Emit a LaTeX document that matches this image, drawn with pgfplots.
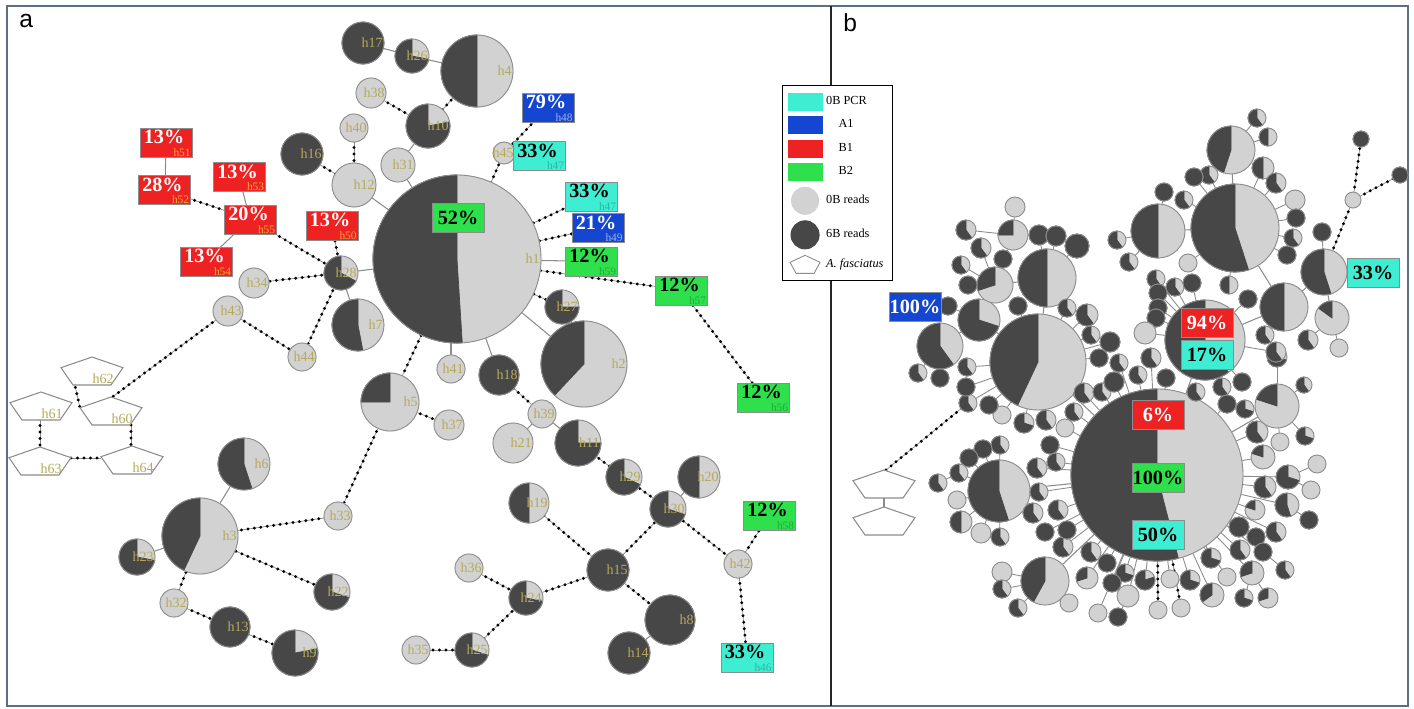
\documentclass[border=0pt]{standalone}
\usepackage{pgfplots}
\pgfplotsset{compat=1.18}
\usepackage{fontspec}
\setmainfont{Liberation Serif}
\newfontfamily\sansf{Liberation Sans}
\definecolor{pdark}{HTML}{474747}
\definecolor{plight}{HTML}{D2D2D2}
\definecolor{pedge}{HTML}{8C8C8C}
\definecolor{bred}{HTML}{EE2222}
\definecolor{bblue}{HTML}{1446D2}
\definecolor{bgreen}{HTML}{2EE04C}
\definecolor{bcyan}{HTML}{3EEED2}
\definecolor{hlab}{HTML}{B4AA5A}
\definecolor{sred}{HTML}{F2A93B}
\definecolor{sblue}{HTML}{9FB0E8}
\definecolor{sgreen}{HTML}{23A83E}
\definecolor{scyan}{HTML}{27B8A4}
\definecolor{framec}{HTML}{5B6E82}
\def\px{0.02cm}
\newcommand{\hfont}{\fontsize{8}{9}\selectfont}
\newcommand{\pfont}{\fontsize{11.5}{12}\selectfont\bfseries}
\newcommand{\sfont}{\fontsize{6.5}{7}\selectfont}
\pgfdeclareplotmark{nothing}{}
\pgfplotsset{
  pies/.style={scatter, only marks, mark=nothing, point meta=\thisrow{r}, forget plot,
    visualization depends on={value \thisrow{r}\as\rr},
    visualization depends on={value \thisrow{f}\as\ff},
    scatter/@pre marker code/.code={%
      \fill[plight] (0pt,0pt) circle[radius=\rr*\px];
      \ifdim\ff pt>0.001pt
      \fill[pdark] (0pt,0pt) -- (0pt,\rr*\px) arc[start angle=90, delta angle=\ff*360, radius=\rr*\px] -- cycle;
      \fi
      \draw[pedge, line width=0.5pt] (0pt,0pt) circle[radius=\rr*\px];
    },
    scatter/@post marker code/.code={}},
  piesl/.style={pies,
    visualization depends on={value \thisrow{lab}\as\lab},
    scatter/@post marker code/.code={%
      \node[anchor=east, text=hlab, font=\hfont, inner sep=0pt] at (\rr*\px-1*\px,0pt) {\lab};}},
  boxes/.style={scatter, only marks, mark=nothing, point meta=\thisrow{p}, forget plot,
    visualization depends on={value \thisrow{p}\as\pct},
    visualization depends on={value \thisrow{c}\as\bc},
    visualization depends on={value \thisrow{t}\as\tc},
    scatter/@pre marker code/.code={%
      \node[draw=black!45, line width=0.4pt, fill=\bc, minimum width=52*\px, minimum height=29*\px, inner sep=0pt] at (0pt,0pt) {};
    },
    scatter/@post marker code/.code={}},
  boxsub/.style={boxes,
    visualization depends on={value \thisrow{s}\as\sc},
    visualization depends on={value \thisrow{lab}\as\lab},
    scatter/@post marker code/.code={%
      \node[text=\tc, font=\pfont, inner sep=0pt] at (-2*\px,5.5*\px) {\pct\%};
      \node[text=\sc, font=\sfont, anchor=south east, inner sep=0pt] at (25*\px,-14*\px) {\lab};}},
  boxnos/.style={boxes,
    scatter/@post marker code/.code={%
      \node[text=\tc, font=\pfont, inner sep=0pt] at (0pt,0pt) {\pct\%};}},
  pents/.style={scatter, only marks, mark=nothing, point meta=\thisrow{x}, forget plot,
    scatter/@pre marker code/.code={%
      \draw[pedge, fill=white, line width=0.6pt] (0pt,14*\px) -- (-31*\px,3.3*\px) -- (-19*\px,-14*\px) -- (19*\px,-14*\px) -- (31*\px,3.3*\px) -- cycle;},
    scatter/@post marker code/.code={}},
  pentsl/.style={pents,
    visualization depends on={value \thisrow{lab}\as\lab},
    scatter/@post marker code/.code={%
      \node[anchor=south east, text=hlab, font=\hfont, inner sep=0pt] at (22*\px,-13*\px) {\lab};}},
  solidedge/.style={pedge, line width=0.6pt, forget plot,
    quiver={u=\thisrow{x2}-\thisrow{x1}, v=\thisrow{y2}-\thisrow{y1}}},
  dotline/.style={pedge, line width=0.4pt, forget plot,
    quiver={u=\thisrow{x2}-\thisrow{x1}, v=\thisrow{y2}-\thisrow{y1}}},
  dots/.style={black, line width=0.065cm, line cap=round, dash pattern=on 0pt off 0.13cm, forget plot,
    quiver={u=\thisrow{x2}-\thisrow{x1}, v=\thisrow{y2}-\thisrow{y1}}},
}
\begin{document}
\begin{tikzpicture}
\begin{axis}[
  scale only axis, width=28.28cm, height=14.18cm,
  xmin=0, xmax=1414, ymin=0, ymax=709, y dir=reverse,
  hide axis, clip=false,
  legend style={at={(axis cs:782,85)}, anchor=north west, draw=black, line width=0.6pt, fill=white,
    font=\fontsize{7}{8}\selectfont, row sep=0.11cm, inner xsep=0.1cm, inner ysep=0.14cm},
  legend cell align=left,
]
\addlegendimage{legend image code/.code={\fill[bcyan] (0pt,-8.5*\px) rectangle (34*\px,8.5*\px);}}
\addlegendentry{0B PCR}
\addlegendimage{legend image code/.code={\fill[bblue] (0pt,-8.5*\px) rectangle (34*\px,8.5*\px);}}
\addlegendentry{\hspace{0.25cm}A1}
\addlegendimage{legend image code/.code={\fill[bred] (0pt,-8.5*\px) rectangle (34*\px,8.5*\px);}}
\addlegendentry{\hspace{0.25cm}B1}
\addlegendimage{legend image code/.code={\fill[bgreen] (0pt,-8.5*\px) rectangle (34*\px,8.5*\px);}}
\addlegendentry{\hspace{0.25cm}B2}
\addlegendimage{legend image code/.code={\fill[plight] (17*\px,0pt) circle[radius=13.5*\px];}}
\addlegendentry{0B reads}
\addlegendimage{legend image code/.code={\fill[pdark] (17*\px,0pt) circle[radius=14*\px];}}
\addlegendentry{6B reads}
\addlegendimage{legend image code/.code={\draw[pedge, fill=white, line width=0.5pt] (17*\px,9*\px) -- (2*\px,2*\px) -- (8*\px,-9*\px) -- (26*\px,-9*\px) -- (32*\px,2*\px) -- cycle;}}
\addlegendentry{\textit{A. fasciatus}}

\fill[white] (axis cs:0,0) rectangle (axis cs:1414,709);
\draw[framec, line width=0.05cm] (axis cs:7,6) rectangle (axis cs:1408,706);
\draw[black!85, line width=0.04cm] (axis cs:831,6) -- (axis cs:831,706);

% solid edges
\addplot[solidedge] table[x=x1,y=y1] {
x1 y1 x2 y2
363 43 412 56
412 56 477 71
428 126 398 165
398 165 457 259
354 185 457 259
504 153 520 155
457 259 570 261
457 259 584 364
451 369 451 330
499 375 457 259
341 273 457 259
341 273 358 325
250 219 239 177
250 219 206 261
165 190 166 142
200 536 244 464
200 536 137 557
542 414 513 443
542 414 578 443
668 509 699 477
670 620 629 653
884 497 884 508
1235 228 1158 231
1235 228 1231 150
1235 228 1284 307
1284 307 1324 272
1324 272 1332 318
1205 340 1157 475
1205 340 1284 307
1157 475 1038 362
1038 362 1047 278
1047 278 995 285
1038 362 979 320
979 320 940 346
1157 475 999 491
1157 475 1045 581
1157 475 1277 406
};
% edges of small haplotypes in panel b
\addplot[pedge, line width=0.5pt, forget plot, quiver={u=\thisrow{hx}-\thisrow{x}, v=\thisrow{hy}-\thisrow{y}}] table {
x y r f hx hy
1304 385 8 0.6 1277 406
1277 357 10 0.7 1277 406
1242 382 9 1 1205 340
1245 409 9 0.7 1277 406
1227 404 9 1 1157 475
1257 432 11 0.6 1157 475
1280 442 9 0 1277 406
1305 436 9 0.7 1277 406
1263 457 12 0.2 1157 475
1288 477 12 0.7 1157 475
1317 464 9 0 1288 477
1265 487 11 0.6 1157 475
1311 490 9 0 1288 477
1255 510 10 0.2 1157 475
1287 505 12 0.55 1157 475
1309 520 9 1 1287 505
1239 527 10 1 1157 475
1276 532 10 0.6 1157 475
1256 537 9 1 1157 475
1263 552 9 1 1157 475
1240 550 10 0.6 1157 475
1285 570 9 0.6 1263 552
1252 573 12 0.3 1157 475
1227 577 9 0 1157 475
1268 598 10 0.3 1252 573
1244 598 9 0.7 1252 573
1212 595 12 0.35 1157 475
1211 558 10 0.7 1157 475
1190 580 10 0.7 1157 475
1170 579 9 0 1157 475
1181 608 9 0 1157 475
1158 610 9 0 1157 475
1145 580 10 0.8 1157 475
1128 596 11 0 1157 475
1125 573 9 0.7 1157 475
1112 583 9 1 1157 475
1107 563 9 1 1157 475
1118 617 9 1 1128 596
1098 613 9 0 1157 475
1091 552 10 0.6 1157 475
1087 578 11 0.3 1157 475
1069 603 9 0 1045 581
1063 547 10 0.6 1157 475
1045 532 9 1 1157 475
1067 530 9 1 1157 475
1058 510 10 0.6 1157 475
1033 513 10 0.6 999 491
1039 492 9 0.6 1157 475
1037 468 10 0.6 1157 475
1056 462 9 0.6 1157 475
1050 445 9 1 1157 475
1065 428 9 0 1157 475
1074 412 9 0.6 1157 475
1046 420 10 0.6 1038 362
1024 423 10 0.7 1038 362
1002 415 9 0 1038 362
989 405 9 1 1038 362
968 403 9 0.6 1038 362
966 387 9 1 1038 362
940 378 9 1 940 346
918 373 9 0.6 940 346
967 367 9 0.6 1038 362
1000 445 9 0.6 999 491
983 449 9 1 999 491
969 458 9 1 999 491
959 473 9 0.6 999 491
938 483 9 0.6 959 473
957 500 9 0 999 491
961 522 11 0.5 999 491
981 533 10 0 999 491
1000 537 9 0.6 999 491
1002 572 10 0 1045 581
1002 589 9 0.6 1045 581
1018 608 9 0.6 1045 581
1099 358 9 1 1038 362
1119 363 9 0.6 1157 475
1138 375 9 0.6 1157 475
1151 358 10 0.6 1157 475
1166 378 9 1 1157 475
1196 392 9 0.6 1157 475
1222 387 9 0.6 1205 340
1084 393 10 0.6 1157 475
1102 392 9 0.6 1157 475
1114 382 10 1 1157 475
1257 118 9 0.6 1231 150
1268 137 9 0.5 1231 150
1263 168 11 0.5 1235 228
1276 183 10 0.6 1235 228
1295 200 10 0 1235 228
1296 218 9 1 1235 228
1293 238 9 0.6 1235 228
1287 255 9 1 1235 228
1322 232 9 1 1324 272
1209 175 9 0.6 1235 228
1194 177 9 1 1235 228
1184 200 9 0.6 1235 228
1164 192 9 1 1158 231
1117 240 9 0.6 1158 231
1129 262 9 0.6 1158 231
1188 263 9 0 1235 228
1229 285 9 0.5 1235 228
1156 279 9 0.6 1205 340
1175 287 9 0.6 1205 340
1192 283 9 1 1205 340
1248 299 9 1 1205 340
1158 293 9 1 1205 340
1158 308 9 1 1205 340
1156 318 9 1 1205 340
1145 333 11 0 1205 340
1265 335 9 0.6 1284 307
1308 340 10 0.6 1332 318
1339 348 9 0 1332 318
1276 352 10 0.6 1205 340
1015 207 10 0 1013 235
966 230 10 0.6 1013 235
1013 235 15 0.25 995 285
1039 235 10 1 1047 278
1056 236 10 1 1047 278
1077 246 12 1 1047 278
981 248 10 0.6 995 285
961 265 9 0.6 995 285
1003 259 9 1 995 285
968 285 9 1 995 285
948 306 9 1 979 320
1018 306 9 1 1038 362
1067 308 9 0.6 1038 362
1087 315 11 0.6 1038 362
1091 335 9 0.6 1038 362
1110 342 10 1 1038 362
};

% dotted edges (mutation steps)
\pgfplotstableread{
x1 y1 x2 y2
477 71 428 126
371 93 428 126
354 128 354 185
302 154 354 185
504 153 457 259
504 153 548 107
457 259 591 196
457 259 598 228
457 259 681 290
681 290 763 397
457 259 562 307
457 259 390 402
341 273 332 225
341 273 250 219
250 219 164 190
341 273 254 283
341 273 302 357
228 311 302 357
228 311 111 398
74 381 80 408
131 425 131 446
40 419 40 447
71 458 101 458
390 402 449 425
390 402 338 516
338 516 200 536
200 536 332 592
200 536 174 603
174 603 230 627
230 627 295 653
499 375 542 414
578 443 624 477
624 477 668 509
668 509 608 570
668 509 738 564
738 564 769 515
738 564 747 657
529 503 608 570
608 570 670 620
608 570 526 598
526 598 469 568
526 598 472 650
472 650 416 650
1324 272 1353 200
1353 200 1361 139
1353 200 1400 175
886 470 968 403
1157 475 1181 608
1157 475 1158 610
}\dottab
\addplot[dotline] table[x=x1,y=y1] {\dottab};
\addplot[dots] table[x=x1,y=y1] {\dottab};

% panel a haplotype pies
\addplot[piesl] table {
x y r f lab
457 259 84 0.51 h1
477 71 36 0.5 h4
412 56 17 0.72 h26
363 43 21 1 h17
428 126 22 0.78 h10
371 93 15 0 h38
354 128 14 0 h40
398 165 17 0 h31
302 154 21 1 h16
354 185 22 0 h12
504 153 11 0 h45
562 307 17 0.75 h27
584 364 43 0.38 h2
451 369 14 0 h41
499 375 20 1 h18
390 402 29 0.25 h5
449 425 15 0 h37
542 414 14 0 h39
513 443 20 0 h21
578 443 23 0.75 h11
624 477 18 0.68 h29
699 477 21 0.5 h20
668 509 18 0.7 h30
529 503 20 0.5 h19
608 570 21 1 h15
670 620 25 1 h8
629 653 21 1 h14
738 564 14 0 h42
469 568 14 0 h36
526 598 17 0.72 h24
416 650 14 0 h35
472 650 17 0.7 h25
341 273 17 0.67 h28
254 283 15 0 h34
228 311 15 0 h43
302 357 14 0 h44
358 325 26 0.53 h7
244 464 26 0.55 h6
200 536 38 0.43 h3
137 557 18 0.72 h23
174 603 14 0 h32
230 627 20 1 h13
295 653 23 0.78 h9
332 592 18 0.7 h22
338 516 14 0 h33
};

% panel b central haplotypes
\addplot[pies] table {
x y r f
1157 475 86 0.54
1235 228 44 0.55
1038 362 48 0.43
1205 340 40 0.6
1158 231 27 0.5
1231 150 24 0.45
979 320 21 0.7
940 346 23 0.6
1047 278 29 0.5
995 285 18 0.3
1324 272 23 0.55
1284 307 24 0.5
1332 318 17 0.15
999 491 31 0.55
1045 581 24 0.42
1277 406 22 0.2
1353 200 8 0
1361 139 8 1
1400 175 8 1
};
% panel b small haplotypes
\addplot[pies] table {
x y r f
1304 385 8 0.6
1277 357 10 0.7
1242 382 9 1
1245 409 9 0.7
1227 404 9 1
1257 432 11 0.6
1280 442 9 0
1305 436 9 0.7
1263 457 12 0.2
1288 477 12 0.7
1317 464 9 0
1265 487 11 0.6
1311 490 9 0
1255 510 10 0.2
1287 505 12 0.55
1309 520 9 1
1239 527 10 1
1276 532 10 0.6
1256 537 9 1
1263 552 9 1
1240 550 10 0.6
1285 570 9 0.6
1252 573 12 0.3
1227 577 9 0
1268 598 10 0.3
1244 598 9 0.7
1212 595 12 0.35
1211 558 10 0.7
1190 580 10 0.7
1170 579 9 0
1181 608 9 0
1158 610 9 0
1145 580 10 0.8
1128 596 11 0
1125 573 9 0.7
1112 583 9 1
1107 563 9 1
1118 617 9 1
1098 613 9 0
1091 552 10 0.6
1087 578 11 0.3
1069 603 9 0
1063 547 10 0.6
1045 532 9 1
1067 530 9 1
1058 510 10 0.6
1033 513 10 0.6
1039 492 9 0.6
1037 468 10 0.6
1056 462 9 0.6
1050 445 9 1
1065 428 9 0
1074 412 9 0.6
1046 420 10 0.6
1024 423 10 0.7
1002 415 9 0
989 405 9 1
968 403 9 0.6
966 387 9 1
940 378 9 1
918 373 9 0.6
967 367 9 0.6
1000 445 9 0.6
983 449 9 1
969 458 9 1
959 473 9 0.6
938 483 9 0.6
957 500 9 0
961 522 11 0.5
981 533 10 0
1000 537 9 0.6
1002 572 10 0
1002 589 9 0.6
1018 608 9 0.6
1099 358 9 1
1119 363 9 0.6
1138 375 9 0.6
1151 358 10 0.6
1166 378 9 1
1196 392 9 0.6
1222 387 9 0.6
1084 393 10 0.6
1102 392 9 0.6
1114 382 10 1
1257 118 9 0.6
1268 137 9 0.5
1263 168 11 0.5
1276 183 10 0.6
1295 200 10 0
1296 218 9 1
1293 238 9 0.6
1287 255 9 1
1322 232 9 1
1209 175 9 0.6
1194 177 9 1
1184 200 9 0.6
1164 192 9 1
1117 240 9 0.6
1129 262 9 0.6
1188 263 9 0
1229 285 9 0.5
1156 279 9 0.6
1175 287 9 0.6
1192 283 9 1
1248 299 9 1
1158 293 9 1
1158 308 9 1
1156 318 9 1
1145 333 11 0
1265 335 9 0.6
1308 340 10 0.6
1339 348 9 0
1276 352 10 0.6
1015 207 10 0
966 230 10 0.6
1013 235 15 0.25
1039 235 10 1
1056 236 10 1
1077 246 12 1
981 248 10 0.6
961 265 9 0.6
1003 259 9 1
968 285 9 1
948 306 9 1
1018 306 9 1
1067 308 9 0.6
1087 315 11 0.6
1091 335 9 0.6
1110 342 10 1
};

% outgroup (A. fasciatus)
\addplot[pentsl] table {
x y lab
92 371 h62
41 406 h61
111 411 h60
40 461 h63
132 460 h64
};
\addplot[pents] table {
x y
884 484
884 521
};

% percentage boxes
\addplot[boxsub] table {
x y p c t s lab
166 142.5 13 bred white sred h51
164.5 190 28 bred white sred h52
239.5 177 13 bred white sred h53
250.5 219.5 20 bred white sred h55
206.5 261.5 13 bred white sred h54
332 225.5 13 bred white sred h50
548 107.5 79 bblue white sblue h48
539.5 156 33 bcyan black scyan h47
591.5 196.5 33 bcyan black scyan h47
598 228 21 bblue white sblue h49
591.5 261.5 12 bgreen black sgreen h59
681.5 290.5 12 bgreen black sgreen h57
763.5 397.5 12 bgreen black sgreen h56
769.5 515.5 12 bgreen black sgreen h58
747 657.5 33 bcyan black scyan h46
};
\addplot[boxnos] table {
x y p c t
458 217.5 52 bgreen black
915 306.5 100 bblue white
1373 273 33 bcyan black
1207 323 94 bred white
1207 355 17 bcyan black
1158 415 6 bred white
1158 477.5 100 bgreen black
1158 534.5 50 bcyan black
};

\node[anchor=north west, inner sep=0pt, font=\sansf\fontsize{14}{14}\selectfont] at (axis cs:19,14) {a};
\node[anchor=north west, inner sep=0pt, font=\sansf\fontsize{14}{14}\selectfont] at (axis cs:843,13) {b};
\end{axis}
\end{tikzpicture}
\end{document}
